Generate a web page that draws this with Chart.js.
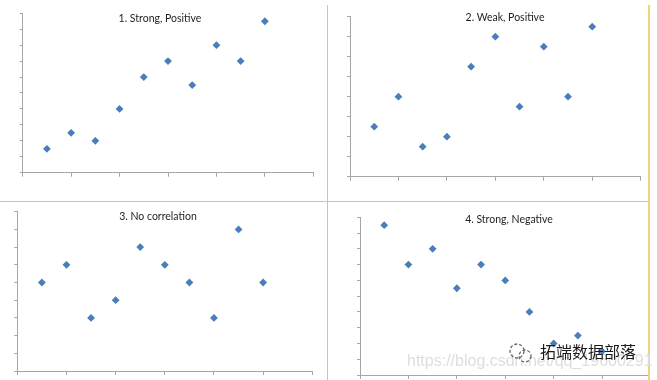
<!DOCTYPE html>
<html>
<head>
<meta charset="utf-8">
<script src="https://cdn.jsdelivr.net/npm/chart.js@4/dist/chart.umd.min.js"></script>
<style>
  html, body { margin: 0; padding: 0; background: #fff; }
  #stage { position: relative; width: 657px; height: 380px; overflow: hidden; background: #fff; }
  .layer { position: absolute; left: 0; top: 0; width: 657px; height: 380px; }
  .clip { position: absolute; left: 0; top: 0; width: 648px; height: 380px; overflow: hidden; }
  .title { position: absolute; font-family: Lato, "Open Sans", sans-serif; font-size: 10.5px; color: #1e1e1e;
           transform: translate(-50%, -50%); white-space: nowrap; }
  .vline { position: absolute; width: 1px; background: #c4c4c4; }
  .hline { position: absolute; height: 1px; background: #c4c4c4; }
  .wm-url { position: absolute; left: 407px; top: 352px; font-family: "Liberation Sans", Arial, sans-serif;
            font-size: 16px; color: #dedede; white-space: nowrap; }
  .wm-cn { position: absolute; left: 540px; top: 342px; font-family: "Noto Sans CJK SC", sans-serif;
           font-size: 16px; line-height: 18px; color: #1a1a1a; white-space: nowrap; }
  .wm-icon { position: absolute; left: 507px; top: 341px; }
</style>
</head>
<body>
<div id="stage">
  <div class="layer"><canvas id="c1"></canvas></div>
  <div class="layer"><canvas id="c2"></canvas></div>
  <div class="layer"><canvas id="c3"></canvas></div>
  <div class="clip"><div class="layer"><canvas id="c4"></canvas></div></div>

  <div class="vline" style="left:327px; top:5px; height:375px;"></div>
  <div class="hline" style="left:0; top:201px; width:648px;"></div>
  <div class="vline" style="left:648px; top:5px; height:375px; width:2px; background:#f2d27a;"></div>

  <div class="title" style="left:160px; top:18px;">1. Strong, Positive</div>
  <div class="title" style="left:505px; top:17px;">2. Weak, Positive</div>
  <div class="title" style="left:158px; top:216px;">3. No correlation</div>
  <div class="title" style="left:509px; top:219px;">4. Strong, Negative</div>

  <div class="wm-url">https://blog.csdn.net/qq_19600291</div>
  <svg class="wm-icon" width="28" height="24" viewBox="0 0 28 24">
    <circle cx="10" cy="10" r="7" fill="none" stroke="#666" stroke-width="1.3" stroke-dasharray="3 2"/>
    <circle cx="18" cy="15" r="6" fill="none" stroke="#666" stroke-width="1.3" stroke-dasharray="3 2"/>
  </svg>
  <div class="wm-cn">拓端数据部落</div>
</div>

<script>
// x positions shared by all four panels
var xValues = [1, 2, 3, 4, 5, 6, 7, 8, 9, 10];

// y values
var strongPositive = [1.5, 2.5, 2, 4, 6, 7, 5.5, 8, 7, 9.5];
var weakPositive   = [2.5, 4, 1.5, 2, 5.5, 7, 3.5, 6.5, 4, 7.5];
var noCorrelation  = [5, 6, 3, 4, 7, 6, 5, 3, 8, 5];
var strongNegative = [9.5, 7, 8, 5.5, 7, 6, 4, 2, 2.5, 1.5];

// axis ranges (no labels are shown, only tick marks)
var xMax = 12, xStep = 2;
var yMaxes = [10, 8, 9, 10];

var axisColor = '#a6a6a6';
var markerColor = '#4a7ebb';

function toPoints(ys) {
    return ys.map(function (y, i) { return { x: xValues[i], y: y }; });
}

function makeChart(id, ys, yMax, pad) {
    var ctx = document.getElementById(id);
    return new Chart(ctx, {
        type: 'scatter',
        data: {
            datasets: [{
                data: toPoints(ys),
                pointStyle: 'rectRot',
                pointRadius: 3.9,
                pointBorderWidth: 0,
                backgroundColor: markerColor,
                borderColor: markerColor
            }]
        },
        options: {
            responsive: true,
            maintainAspectRatio: false,
            animation: false,
            layout: { padding: pad, autoPadding: false },
            plugins: { legend: { display: false }, tooltip: { enabled: false } },
            scales: {
                x: {
                    min: 0, max: xMax,
                    ticks: { display: false, stepSize: xStep },
                    grid: { drawOnChartArea: false, drawTicks: true, tickLength: 4, color: axisColor },
                    border: { display: true, color: axisColor, width: 1 },
                    afterFit: function (s) { s.height = 4; }
                },
                y: {
                    min: 0, max: yMax,
                    ticks: { display: false, stepSize: 1 },
                    grid: { drawOnChartArea: false, drawTicks: true, tickLength: 3, color: axisColor },
                    border: { display: true, color: axisColor, width: 1 },
                    afterFit: function (s) { s.width = 4; }
                }
            }
        }
    });
}

makeChart('c1', strongPositive, yMaxes[0], { left: 18.7, right: 343.7, top: 13.3, bottom: 203.3 });
makeChart('c2', weakPositive,   yMaxes[1], { left: 346,  right: 16.3,  top: 16.7, bottom: 199.3 });
makeChart('c3', noCorrelation,  yMaxes[2], { left: 13.3, right: 344.7, top: 211.7, bottom: 5 });
makeChart('c4', strongNegative, yMaxes[3], { left: 356,  right: 6.5,   top: 217.3, bottom: 1 });
</script>
</body>
</html>
